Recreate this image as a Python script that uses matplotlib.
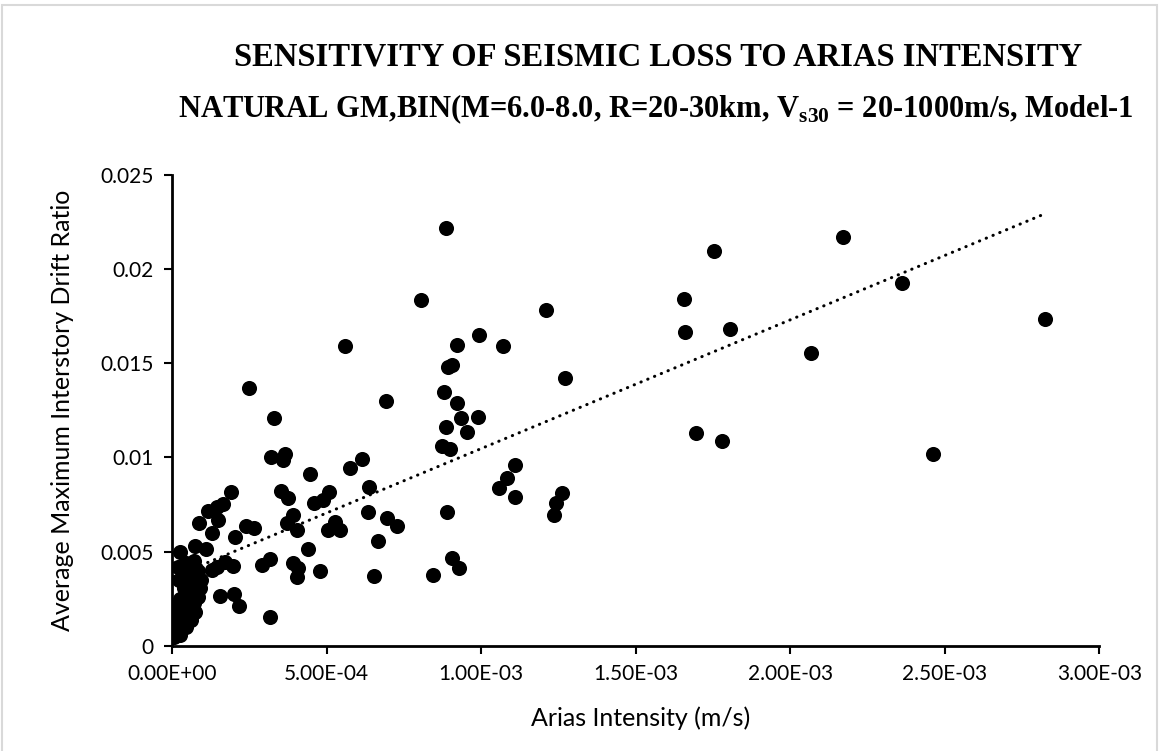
import numpy as np
import matplotlib
matplotlib.use("Agg")
import matplotlib.pyplot as plt
from matplotlib.patches import Rectangle

# Arias intensity (m/s) and average maximum interstory drift ratio per record
arias_intensity = np.array([
    # dense group of weak records near the origin
    0.006, 0.012, 0.025, 0.008, 0.030, 0.045, 0.018, 0.040, 0.060, 0.010,
    0.035, 0.055, 0.075, 0.070, 0.025, 0.045, 0.065, 0.085, 0.040, 0.060,
    0.090, 0.050, 0.075, 0.095, 0.035, 0.060, 0.085, 0.045, 0.070, 0.020,
    0.022,
    # remaining records
    0.026, 0.074, 0.110, 0.171, 0.198, 0.145, 0.128, 0.290, 0.317, 0.392,
    0.409, 0.403, 0.479, 0.654, 0.846, 0.907, 0.929, 0.155, 0.202, 0.218,
    0.317, 0.250, 0.329, 0.693, 0.880, 0.885, 0.873, 0.899, 0.319, 0.366,
    0.360, 0.446, 0.577, 0.616, 0.352, 0.376, 0.508, 0.489, 0.460, 0.636,
    0.635, 0.889, 0.191, 0.166, 0.145, 0.117, 0.150, 0.088, 0.128, 0.239,
    0.265, 0.204, 0.392, 0.371, 0.403, 0.527, 0.506, 0.544, 0.697, 0.729,
    0.667, 0.441, 0.885, 1.754, 1.656, 1.660, 1.805, 1.209, 0.992, 0.921,
    1.072, 0.905, 0.894, 1.270, 0.921, 0.935, 0.991, 0.955, 1.110, 1.083,
    1.059, 1.110, 1.263, 1.241, 1.237, 1.694, 1.780, 2.171, 2.362, 2.825,
    2.067, 2.461, 0.806, 0.561,
]) * 1e-3

drift_ratio = np.array([
    0.0005, 0.0009, 0.0006, 0.0014, 0.0012, 0.0010, 0.0018, 0.0016, 0.0014, 0.0022,
    0.0021, 0.0020, 0.0018, 0.0023, 0.0025, 0.0027, 0.0028, 0.0026, 0.0031, 0.0033,
    0.0031, 0.0036, 0.0037, 0.0035, 0.0040, 0.0041, 0.0040, 0.0044, 0.0045, 0.0042,
    0.0035,
    0.00497, 0.00532, 0.00515, 0.00447, 0.00426, 0.00421, 0.00403, 0.00430, 0.00462, 0.00442,
    0.00412, 0.00368, 0.00400, 0.00373, 0.00374, 0.00469, 0.00416, 0.00267, 0.00274, 0.00212,
    0.00156, 0.01368, 0.01209, 0.01297, 0.01347, 0.01164, 0.01062, 0.01047, 0.01002, 0.01019,
    0.00987, 0.00911, 0.00946, 0.00993, 0.00824, 0.00784, 0.00819, 0.00775, 0.00757, 0.00846,
    0.00713, 0.00713, 0.00816, 0.00754, 0.00739, 0.00718, 0.00669, 0.00651, 0.00598, 0.00637,
    0.00625, 0.00580, 0.00695, 0.00654, 0.00616, 0.00660, 0.00616, 0.00616, 0.00678, 0.00639,
    0.00557, 0.00515, 0.02217, 0.02093, 0.01842, 0.01665, 0.01681, 0.01782, 0.01652, 0.01599,
    0.01592, 0.01492, 0.01479, 0.01423, 0.01291, 0.01212, 0.01217, 0.01134, 0.00959, 0.00890,
    0.00837, 0.00789, 0.00811, 0.00757, 0.00695, 0.01129, 0.01088, 0.02169, 0.01923, 0.01736,
    0.01552, 0.01019, 0.01837, 0.01592,
])

# linear trendline (drift = slope * AI + intercept)
trend_slope = 6.83
trend_intercept = 0.00364

x_ticks = [0, 5e-4, 1e-3, 1.5e-3, 2e-3, 2.5e-3, 3e-3]
x_tick_labels = ["0.00E+00", "5.00E-04", "1.00E-03", "1.50E-03", "2.00E-03", "2.50E-03", "3.00E-03"]
y_ticks = [0, 0.005, 0.01, 0.015, 0.02, 0.025]
y_tick_labels = ["0", "0.005", "0.01", "0.015", "0.02", "0.025"]

plt.rcParams['font.family'] = ['Lato', 'DejaVu Sans']
plt.rcParams['mathtext.fontset'] = 'custom'
plt.rcParams['mathtext.rm'] = 'Liberation Serif:bold'

fig = plt.figure(figsize=(11.59, 7.51), dpi=100)
ax = fig.add_axes([0.1484, 0.1398, 0.8001, 0.6276])

trend_x = np.array([arias_intensity.min(), arias_intensity.max()])
ax.plot(trend_x, trend_slope * trend_x + trend_intercept, color='black', lw=2.2,
        linestyle=(0, (0.1, 2.3)), dash_capstyle='round', zorder=2)

ax.scatter(arias_intensity, drift_ratio, s=118, color='black', linewidths=0, zorder=3)

ax.set_xlim(0, 3e-3)
ax.set_ylim(0, 0.025)
ax.set_xticks(x_ticks)
ax.set_xticklabels(x_tick_labels)
ax.set_yticks(y_ticks)
ax.set_yticklabels(y_tick_labels)
ax.tick_params(direction='out', length=6, width=1.5, labelsize=15, pad=7, colors='black')
for side in ['top', 'right']:
    ax.spines[side].set_visible(False)
for side in ['left', 'bottom']:
    ax.spines[side].set_linewidth(2)
ax.patch.set_alpha(0)

fig.text(0.0535, 0.454, "Average Maximum Interstory Drift Ratio", rotation=90,
         ha='center', va='center', fontsize=18)
fig.text(0.553, 0.044, "Arias Intensity (m/s)", ha='center', va='center', fontsize=18)

fig.text(0.568, 0.924, "SENSITIVITY OF SEISMIC LOSS TO ARIAS INTENSITY",
         ha='center', va='center', fontsize=23.5, fontweight='bold', family='Liberation Serif')
fig.text(0.566, 0.854,
         r"NATURAL GM,BIN(M=6.0-8.0, R=20-30km, V$_\mathregular{s30}$ = 20-1000m/s, Model-1",
         ha='center', va='center', fontsize=22, fontweight='bold', family='Liberation Serif')

# chart area border
fig.patches.append(Rectangle((0.0015, -0.01), 0.997, 1.004, transform=fig.transFigure,
                             fill=False, edgecolor='#d9d9d9', lw=1.5))

fig.savefig("out.png", dpi=100)
